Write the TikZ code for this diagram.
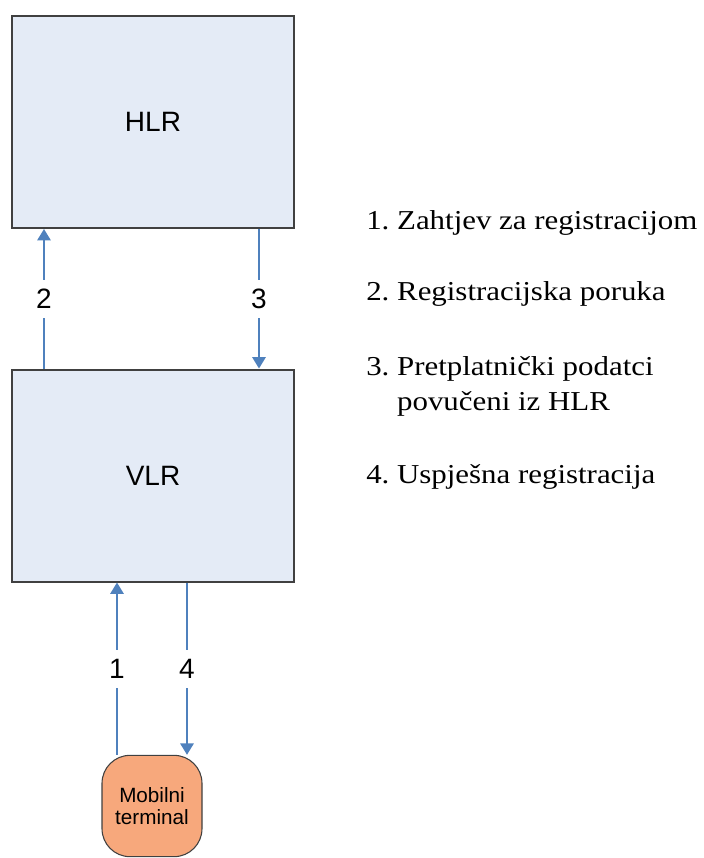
\documentclass[tikz,border=0pt]{standalone}
\usepackage{fontspec}
\setmainfont{Liberation Serif}
\newfontfamily\arialfont{Liberation Sans}
\usetikzlibrary{calc,arrows.meta}

\definecolor{boxfill}{RGB}{228,235,246}
\definecolor{boxline}{RGB}{64,64,64}
\definecolor{flowblue}{RGB}{79,129,189}
\definecolor{mtfill}{RGB}{247,168,124}

\newcommand{\wide}[1]{\scalebox{1.13}[1]{#1}}

\begin{document}
\frenchspacing
\begin{tikzpicture}[x=0.75pt, y=-0.75pt,
    box/.style={draw=boxline, line width=1.5pt, fill=boxfill,
        minimum width=211.5pt, minimum height=159pt, inner sep=0pt,
        font=\arialfont\fontsize{21}{25}\selectfont},
    flow/.style={draw=flowblue, line width=1.3pt, -{Triangle[width=10pt,length=8.5pt]}},
    num/.style={fill=white, inner xsep=2pt, inner ysep=7pt,
        font=\arialfont\fontsize{21}{25}\selectfont},
    legend/.style={anchor=base west, inner sep=0pt, align=left,
        font=\fontsize{20.5}{26.25}\selectfont}]

    \useasboundingbox (0, 0) rectangle (704, 858);

    % boxes
    \node[box] (hlr) at (153, 122) {HLR};
    \node[box] (vlr) at (153, 475.5) {VLR};
    \node[draw=boxline, line width=0.8pt, fill=mtfill, rounded corners=21pt,
        minimum width=75pt, minimum height=76pt, inner sep=0pt, align=center,
        font=\arialfont\fontsize{15.5}{17}\selectfont] (mt) at (152, 806) {Mobilni\\terminal};

    % arrows between boxes
    \draw[flow] ($(vlr.north west) + (33, 0)$) -- node[num, midway] {2} ($(hlr.south west) + (33, 0)$);
    \draw[flow] ($(hlr.south east) + (-36, 0)$) -- node[num, midway] {3} ($(vlr.north east) + (-36, 0)$);
    \draw[flow] ($(mt.north) + (-35, 0)$) -- node[num, midway] {1} ($(vlr.south) + (-36, 0)$);
    \draw[flow] ($(vlr.south) + (34, 0)$) -- node[num, midway] {4} ($(mt.north) + (35, 0)$);

    % legend
    \node[legend] (l1) at (366, 229) {\wide{1. Zahtjev za registracijom}};
    \node[legend] (l2) at (366, 300) {\wide{2. Registracijska poruka}};
    \node[legend] (l3) at (366, 410) {\wide{3. Pretplatnički podatci}\\\wide{\phantom{3. }povučeni iz HLR}};
    \node[legend] (l4) at (366, 483) {\wide{4. Uspješna registracija}};

\end{tikzpicture}
\end{document}
